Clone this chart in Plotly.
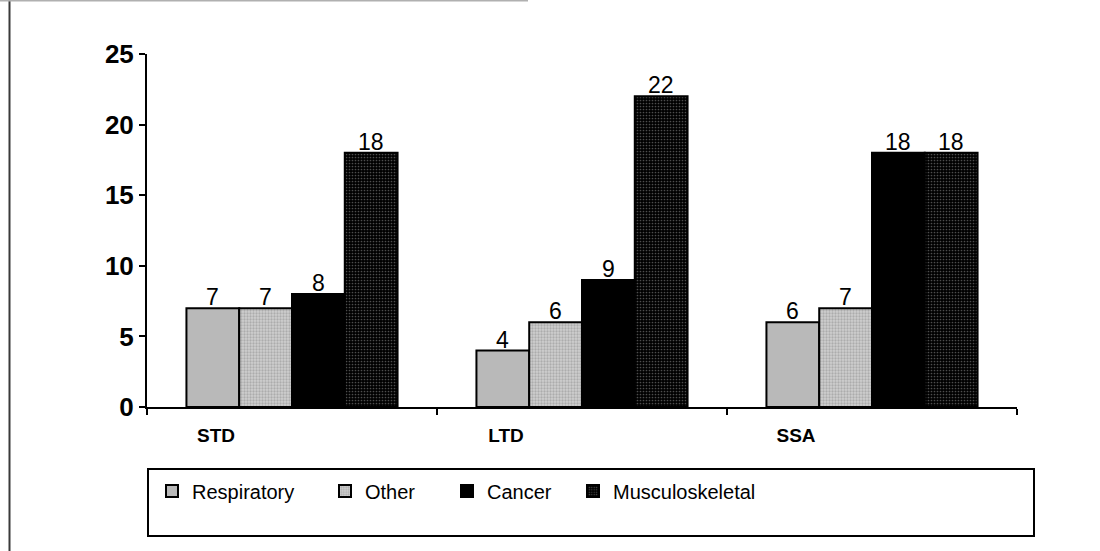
import plotly.graph_objects as go

# Claim counts by disability program and diagnosis group
programs = ["STD", "LTD", "SSA"]
respiratory = [7, 4, 6]
other = [7, 6, 7]
cancer = [8, 9, 18]
musculoskeletal = [18, 22, 18]

y_ticks = [0, 5, 10, 15, 20, 25]

W, H = 1100, 551
L, R, T, B = 147, 1017, 54, 407  # plot area in pixels

def px(x):
    return (x - L) / (R - L)

def py(y):
    return (B - y) / (B - T)

FONT = "Liberation Sans, Arial, sans-serif"
BARGAP = 0.272

series = [
    ("Respiratory", respiratory, dict(color="#b9b9b9")),
    ("Other", other, dict(color="#b4b4b4",
                          pattern=dict(shape=".", fgcolor="#8a8a8a", bgcolor="#cfcfcf",
                                       size=3, solidity=0.45))),
    ("Cancer", cancer, dict(color="#000000")),
    ("Musculoskeletal", musculoskeletal, dict(color="#000000",
                                              pattern=dict(shape=".", fgcolor="#9a9a9a", bgcolor="#000000",
                                                           size=3, solidity=0.25))),
]

legend_ids = ["legend", "legend2", "legend3", "legend4"]
legend_x = [166, 339, 461, 587]  # legend item left edges

fig = go.Figure()
for (name, vals, marker), lid in zip(series, legend_ids):
    marker = dict(marker)
    marker["line"] = dict(color="#000000", width=2)
    fig.add_trace(go.Bar(
        name=name, x=programs, y=vals, marker=marker,
        cliponaxis=False, legend=lid,
    ))

# value labels sitting just above each bar
n = len(series)
bw = (1 - BARGAP) / n
annotations = []
for i, (name, vals, _) in enumerate(series):
    for j, v in enumerate(vals):
        annotations.append(dict(
            x=j + (i - (n - 1) / 2) * bw, y=v, xref="x", yref="y",
            text=str(v), showarrow=False, yanchor="bottom", yshift=-4,
            font=dict(family=FONT, size=23, color="#000000"),
        ))

layout = dict(
    width=W, height=H,
    margin=dict(l=L, r=W - R, t=T, b=H - B, pad=0),
    paper_bgcolor="#ffffff", plot_bgcolor="#ffffff",
    barmode="group", bargap=BARGAP, bargroupgap=0,
    showlegend=True,
    annotations=annotations,
    xaxis=dict(
        type="category", showline=True, linecolor="#000000", linewidth=2,
        ticks="outside", ticklen=6, tickwidth=1.5, tickcolor="#000000",
        tickson="boundaries", showgrid=False, zeroline=False,
        ticklabelshift=-76, ticklabelstandoff=10,
        tickfont=dict(family=FONT, size=19, color="#000000", weight="bold"),
    ),
    yaxis=dict(
        range=[0, 25], tickvals=y_ticks, showline=True, linecolor="#000000", linewidth=2,
        ticks="outside", ticklen=6, tickwidth=1.5, tickcolor="#000000",
        showgrid=False, zeroline=False,
        tickfont=dict(family=FONT, size=26, color="#000000", weight="bold"),
    ),
    shapes=[
        # page frame edges
        dict(type="line", xref="paper", yref="paper", x0=px(9.5), x1=px(9.5), y0=py(0), y1=py(551),
             line=dict(color="#3a3a3a", width=2)),
        dict(type="line", xref="paper", yref="paper", x0=px(0), x1=px(528), y0=py(0.5), y1=py(0.5),
             line=dict(color="#b0b0b0", width=2)),
        # legend frame
        dict(type="rect", xref="paper", yref="paper", x0=px(148), x1=px(1034), y0=py(536), y1=py(469),
             line=dict(color="#000000", width=2), fillcolor="rgba(0,0,0,0)"),
    ],
)
for lid, x0 in zip(legend_ids, legend_x):
    layout[lid] = dict(
        x=px(x0 - 14), y=py(491), xanchor="left", yanchor="middle",
        orientation="h", bgcolor="rgba(0,0,0,0)", borderwidth=0,
        font=dict(family=FONT, size=20, color="#000000"),
        itemclick=False, itemdoubleclick=False,
    )
fig.update_layout(**layout)

fig.write_html("out.html")
